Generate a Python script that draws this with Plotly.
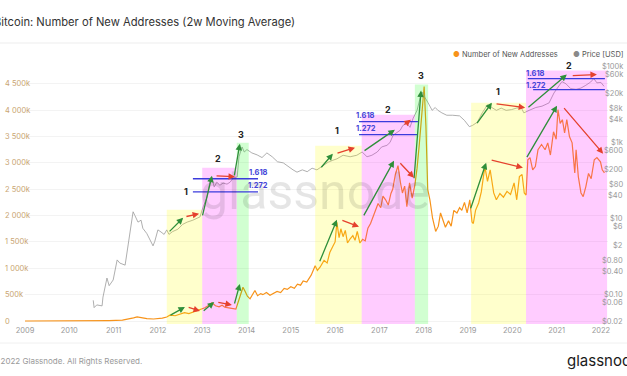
import math
import plotly.graph_objects as go

# ---------------- data ----------------
addr_years = [2009.00, 2009.50, 2010.00, 2010.50, 2010.90, 2011.20, 2011.35, 2011.45, 2011.53, 2011.62,
              2011.75, 2011.90, 2012.00, 2012.10, 2012.20, 2012.27, 2012.39, 2012.50, 2012.60, 2012.70,
              2012.82, 2012.95, 2013.06, 2013.15, 2013.22, 2013.30, 2013.38, 2013.45, 2013.51, 2013.60,
              2013.70, 2013.76, 2013.82, 2013.88, 2013.92, 2013.97, 2014.02, 2014.08, 2014.14, 2014.19,
              2014.25, 2014.32, 2014.37, 2014.45, 2014.53, 2014.62, 2014.69, 2014.77, 2014.85, 2014.92,
              2015.00, 2015.08, 2015.15, 2015.22, 2015.28, 2015.36, 2015.46, 2015.55, 2015.60, 2015.66,
              2015.75, 2015.82, 2015.88, 2015.95, 2016.00, 2016.04, 2016.09, 2016.13, 2016.18, 2016.23,
              2016.28, 2016.34, 2016.40, 2016.45, 2016.50, 2016.56, 2016.62, 2016.68, 2016.74, 2016.80,
              2016.86, 2016.92, 2016.97, 2017.03, 2017.08, 2017.14, 2017.20, 2017.26, 2017.30, 2017.36,
              2017.42, 2017.48, 2017.52, 2017.57, 2017.62, 2017.68, 2017.74, 2017.80, 2017.85, 2017.90,
              2017.96, 2018.01, 2018.05, 2018.09, 2018.14, 2018.20, 2018.27, 2018.33, 2018.38, 2018.44,
              2018.49, 2018.56, 2018.62, 2018.68, 2018.75, 2018.81, 2018.86, 2018.92, 2018.98, 2019.04,
              2019.09, 2019.12, 2019.17, 2019.24, 2019.30, 2019.38, 2019.44, 2019.50, 2019.58, 2019.64,
              2019.72, 2019.80, 2019.88, 2019.96, 2020.04, 2020.10, 2020.16, 2020.22, 2020.27, 2020.31,
              2020.35, 2020.40, 2020.46, 2020.52, 2020.58, 2020.66, 2020.74, 2020.80, 2020.86, 2020.93,
              2020.99, 2021.03, 2021.08, 2021.13, 2021.18, 2021.23, 2021.29, 2021.35, 2021.41, 2021.44,
              2021.49, 2021.55, 2021.60, 2021.66, 2021.72, 2021.78, 2021.85, 2021.91, 2021.99, 2022.03,
              2022.08]
new_addresses_k = [0, 0, 1, 3, 8, 15, 35, 60, 78, 62,
                   45, 38, 42, 55, 75, 110, 100, 130, 160, 140,
                   175, 205, 250, 300, 345, 290, 270, 300, 260, 250,
                   240, 225, 380, 560, 640, 560, 470, 420, 520, 580,
                   480, 520, 500, 540, 490, 530, 560, 540, 620, 600,
                   650, 620, 700, 680, 760, 740, 870, 1050, 960, 1020,
                   1150, 1100, 1300, 1420, 1500, 1870, 1580, 1750, 1600, 1720,
                   1480, 1560, 1620, 1530, 1700, 1480, 1550, 1520, 1760, 1850,
                   1990, 2100, 2230, 2150, 2370, 2300, 2200, 2420, 2500, 2780,
                   2950, 2600, 2430, 2560, 2170, 2620, 2330, 2580, 2900, 3350,
                   3900, 4450, 3700, 2500, 2300, 1950, 1700, 1800, 2050, 1880,
                   1780, 1900, 1800, 2100, 2050, 2150, 2100, 2250, 2050, 2300,
                   1880, 1850, 2100, 2240, 2450, 2930, 2650, 2870, 2430, 2300,
                   2420, 2350, 2460, 2400, 2620, 2300, 2740, 2780, 2430, 2390,
                   3060, 3100, 2870, 2930, 3250, 3350, 3250, 3380, 3150, 3590,
                   3450, 4010, 3750, 3820, 3570, 3820, 3500, 3380, 2810, 3250,
                   2740, 2430, 2360, 2550, 2800, 2700, 3060, 3100, 3020, 2870,
                   2810]

price_years = [2010.54, 2010.56, 2010.62, 2010.74, 2010.76, 2010.85, 2010.90, 2010.99, 2011.08, 2011.14,
               2011.26, 2011.33, 2011.39, 2011.44, 2011.48, 2011.55, 2011.62, 2011.66, 2011.75, 2011.82,
               2011.89, 2011.93, 2012.00, 2012.07, 2012.14, 2012.20, 2012.25, 2012.33, 2012.45, 2012.56,
               2012.66, 2012.79, 2012.95, 2013.02, 2013.11, 2013.18, 2013.22, 2013.27, 2013.33, 2013.40,
               2013.47, 2013.56, 2013.63, 2013.70, 2013.79, 2013.83, 2013.90, 2013.95, 2014.01, 2014.12,
               2014.24, 2014.35, 2014.46, 2014.58, 2014.70, 2014.83, 2014.94, 2015.05, 2015.14, 2015.26,
               2015.37, 2015.48, 2015.59, 2015.66, 2015.72, 2015.84, 2015.95, 2016.04, 2016.18, 2016.34,
               2016.49, 2016.61, 2016.72, 2016.83, 2016.95, 2017.05, 2017.17, 2017.24, 2017.31, 2017.40,
               2017.47, 2017.53, 2017.62, 2017.69, 2017.76, 2017.85, 2017.92, 2017.98, 2018.03, 2018.10,
               2018.19, 2018.26, 2018.32, 2018.41, 2018.52, 2018.65, 2018.81, 2018.92, 2019.03, 2019.10,
               2019.21, 2019.32, 2019.44, 2019.53, 2019.64, 2019.75, 2019.86, 2019.98, 2020.09, 2020.20,
               2020.26, 2020.38, 2020.53, 2020.67, 2020.83, 2020.94, 2021.05, 2021.12, 2021.21, 2021.32,
               2021.44, 2021.55, 2021.66, 2021.77, 2021.84, 2021.91, 2022.00, 2022.07]
price_usd = [0.07, 0.045, 0.053, 0.05, 0.085, 0.27, 0.17, 0.24, 0.81, 0.67,
             0.59, 2.3, 6.0, 15, 12, 8, 9, 5.5, 4.0, 2.7,
             1.9, 2.5, 5.0, 4.4, 3.8, 5.0, 3.8, 4.5, 5.2, 7.0,
             8.0, 9.0, 11, 20, 36, 100, 120, 67, 90, 75,
             85, 80, 90, 116, 124, 420, 760, 560, 650, 530,
             470, 400, 530, 420, 310, 290, 230, 190, 165, 190,
             170, 210, 190, 215, 230, 300, 340, 370, 460, 420,
             460, 560, 420, 460, 560, 760, 840, 1000, 1550, 1900,
             2100, 2800, 3200, 2500, 4300, 7000, 15000, 21000, 15000, 11000,
             7000, 8300, 7000, 6000, 5200, 5200, 5000, 3800, 2600, 2800,
             3400, 6000, 9800, 8400, 7000, 8000, 7000, 7300, 8000, 8300,
             6000, 7000, 8300, 9000, 11000, 20000, 32000, 40000, 35000, 26000,
             25000, 27000, 32000, 39000, 48000, 37000, 38000, 30000]

x_tick_years = list(range(2009, 2023))
left_tick_vals = [0, 500, 1000, 1500, 2000, 2500, 3000, 3500, 4000, 4500]
left_tick_text = ["0", "500k", "1 000k", "1 500k", "2 000k", "2 500k", "3 000k", "3 500k", "4 000k", "4 500k"]
right_tick_vals = [100000, 60000, 20000, 8000, 4000, 1000, 600, 200, 80, 40, 10, 6, 2, 0.8, 0.4, 0.1, 0.06, 0.02]
right_tick_text = ["$100k", "$60k", "$20k", "$8k", "$4k", "$1k", "$600", "$200", "$80", "$40",
                   "$10", "$6", "$2", "$0.80", "$0.40", "$0.10", "$0.06", "$0.02"]

# cycle phase bands: (kind, start, end, top in k addresses)
band_kind = ["yellow", "pink", "green", "yellow", "pink", "green", "yellow", "pink"]
band_start = [2012.20, 2013.00, 2013.78, 2015.55, 2016.60, 2017.80, 2019.07, 2020.31]
band_end = [2013.00, 2013.78, 2014.05, 2016.60, 2017.80, 2018.10, 2020.31, 2022.14]
band_top_k = [2110, 2909, 3384, 3327, 3916, 4486, 4144, 4753]

# trend arrows: (color, tail_x, tail_y, head_x, head_y) in years / k addresses
arrow_color = ["g", "r", "g", "r", "g", "g", "r", "g", "r", "g",
               "g", "r", "g", "r", "g", "g", "r", "g", "r",
               "g", "r", "g", "r", "g", "r", "g", "r"]
arrow_tail_x = [2012.23, 2012.61, 2013.00, 2013.29, 2013.72, 2012.25, 2012.66, 2013.00, 2013.33, 2013.72,
                2015.66, 2016.02, 2016.63, 2017.53, 2017.78, 2015.64, 2016.13, 2016.63, 2017.44,
                2019.18, 2019.61, 2020.33, 2021.33, 2019.05, 2019.50, 2020.31, 2021.14]
arrow_tail_y = [1673, 1977, 1977, 2756, 2737, 95, 266, 171, 361, 304,
                2890, 3175, 3213, 3707, 2680, 1103, 1920, 1977, 3023,
                3726, 4125, 4030, 4657, 2110, 3061, 3080, 4068]
arrow_head_x = [2012.57, 2012.93, 2013.22, 2013.74, 2013.85, 2012.61, 2012.95, 2013.27, 2013.67, 2013.85,
                2015.95, 2016.45, 2017.35, 2017.71, 2017.94, 2016.04, 2016.54, 2017.33, 2017.78,
                2019.54, 2020.29, 2021.23, 2021.91, 2019.41, 2020.24, 2021.01, 2022.05]
arrow_head_y = [1958, 2034, 2756, 2737, 3365, 266, 190, 361, 304, 703,
                3175, 3289, 3631, 3821, 4372, 1920, 1787, 3042, 2718,
                4144, 4049, 4676, 4676, 3004, 2909, 4087, 3175]

# fibonacci levels
fib_label = ["1.618", "1.272", "1.618", "1.272", "1.618", "1.272"]
fib_x0 = [2012.79, 2012.79, 2016.54, 2016.54, 2020.35, 2020.47]
fib_x1 = [2014.26, 2014.26, 2017.87, 2017.87, 2022.09, 2022.09]
fib_y = [2699, 2452, 3783, 3536, 4600, 4391]
fib_label_x = [2014.27, 2014.27, 2016.69, 2016.69, 2020.53, 2020.53]
fib_label_y = [2813, 2567, 3897, 3650, 4700, 4475]

# wave counts
wave_text = ["1", "2", "3", "1", "2", "3", "1", "2"]
wave_x = [2012.63, 2013.36, 2013.88, 2016.04, 2017.19, 2017.94, 2019.68, 2021.28]
wave_y = [2452, 3080, 3536, 3612, 4011, 4657, 4353, 4848]

# ---------------- figure ----------------
W, H = 627, 376
ML, MR, MT, MB = 25, 19, 62, 52
PW, PH = W - ML - MR, H - MT - MB


def px(xp):
    return (xp - ML) / PW


def py(yp):
    return (H - MB - yp) / PH


FONT = "Inter, Roboto, Arial, sans-serif"
ORANGE = "#f7931a"

fig = go.Figure()
fig.add_trace(go.Scatter(x=addr_years, y=new_addresses_k, mode="lines",
                         line=dict(color=ORANGE, width=1.2), name="Number of New Addresses",
                         yaxis="y"))
fig.add_trace(go.Scatter(x=price_years, y=price_usd, mode="lines",
                         line=dict(color="#9a9a9a", width=0.8), name="Price [USD]",
                         yaxis="y2"))

band_fill = {"yellow": "rgba(255,255,0,0.20)", "pink": "rgba(255,0,255,0.20)",
             "green": "rgba(0,255,0,0.18)"}
shapes = []
ymin_k = -57
for k, s, e, t in zip(band_kind, band_start, band_end, band_top_k):
    shapes.append(dict(type="rect", xref="x", yref="y", x0=s, x1=e, y0=ymin_k, y1=t,
                       fillcolor=band_fill[k], line=dict(width=0), layer="above"))
for x0, x1, yv in zip(fib_x0, fib_x1, fib_y):
    shapes.append(dict(type="line", xref="x", yref="y", x0=x0, x1=x1, y0=yv, y1=yv,
                       line=dict(color="#3b3bdc", width=1.3), layer="above"))
# separators
shapes.append(dict(type="line", xref="paper", yref="paper", x0=px(0), x1=px(W), y0=py(43), y1=py(43),
                   line=dict(color="#ededed", width=1)))
shapes.append(dict(type="line", xref="paper", yref="paper", x0=px(0), x1=px(W), y0=py(343), y1=py(343),
                   line=dict(color="#f0f0f0", width=1)))

ann = []
# watermark
ann.append(dict(text="glassnode", xref="paper", yref="paper", x=0.497, y=0.505, showarrow=False,
                xanchor="center", yanchor="middle",
                font=dict(family="Roboto, sans-serif", size=50, color="rgba(0,0,0,0.10)")))
col = {"g": "#2f8f3a", "r": "#e5412d"}
for c, tx, ty, hx, hy in zip(arrow_color, arrow_tail_x, arrow_tail_y, arrow_head_x, arrow_head_y):
    ann.append(dict(x=hx, y=hy, ax=tx, ay=ty, xref="x", yref="y", axref="x", ayref="y",
                    text="", showarrow=True, arrowhead=2, arrowsize=1.0, arrowwidth=1.3,
                    arrowcolor=col[c], standoff=0, startstandoff=0))
for t, x, y in zip(fib_label, fib_label_x, fib_label_y):
    ann.append(dict(text="<b>%s</b>" % t, x=x, y=y, xref="x", yref="y", showarrow=False,
                    xanchor="center", yanchor="middle",
                    font=dict(family=FONT, size=7.5, color="#4545d8")))
for t, x, y in zip(wave_text, wave_x, wave_y):
    ann.append(dict(text="<b>%s</b>" % t, x=x, y=y, xref="x", yref="y", showarrow=False,
                    xanchor="center", yanchor="middle",
                    font=dict(family=FONT, size=9, color="#222")))
# axis labels
for v, t in zip(left_tick_vals, left_tick_text):
    ann.append(dict(text=t, x=px(3), y=v, xref="paper", yref="y", xanchor="left", yanchor="middle",
                    showarrow=False, font=dict(family=FONT, size=7.5, color="#c9a572")))
for v, t in zip(right_tick_vals, right_tick_text):
    ann.append(dict(text=t, x=px(625), y=math.log10(v), xref="paper", yref="y2", xanchor="right",
                    yanchor="middle", showarrow=False,
                    font=dict(family=FONT, size=7.5, color="#9a9a9a")))
# title, legend, footer
ann.append(dict(text="Bitcoin: Number of New Addresses (2w Moving Average)", x=px(-8), y=py(22),
                xref="paper", yref="paper", xanchor="left", yanchor="middle", showarrow=False,
                font=dict(family=FONT, size=11.2, color="#333")))
ann.append(dict(text="<span style='color:%s'>●</span> Number of New Addresses" % ORANGE,
                x=px(560), y=py(55), xref="paper", yref="paper", xanchor="right", yanchor="middle",
                showarrow=False, font=dict(family=FONT, size=7.5, color="#555")))
ann.append(dict(text="<span style='color:#8a8a8a'>●</span> Price [USD]",
                x=px(626), y=py(55), xref="paper", yref="paper", xanchor="right", yanchor="middle",
                showarrow=False, font=dict(family=FONT, size=7.5, color="#555")))
ann.append(dict(text="© 2022 Glassnode. All Rights Reserved.", x=px(-11), y=py(361),
                xref="paper", yref="paper", xanchor="left", yanchor="middle", showarrow=False,
                font=dict(family=FONT, size=8, color="#9a9a9a")))
ann.append(dict(text="glassnode", x=px(565), y=py(360), xref="paper", yref="paper", xanchor="left",
                yanchor="middle", showarrow=False, font=dict(family=FONT, size=15, color="#1a1a1a")))

fig.update_layout(
    width=W, height=H, margin=dict(l=ML, r=MR, t=MT, b=MB, autoexpand=False),
    paper_bgcolor="white", plot_bgcolor="white", showlegend=False,
    font=dict(family=FONT, size=8, color="#999"),
    xaxis=dict(range=[2009.0, 2022.16], tickvals=x_tick_years, ticktext=[str(y) for y in x_tick_years],
               showgrid=False, zeroline=False, showline=False, ticks="",
               tickfont=dict(size=7.5, color="#999")),
    yaxis=dict(range=[ymin_k, 4915], tickvals=left_tick_vals, showticklabels=False,
               showgrid=True, gridcolor="#f3f3f3", zeroline=False, showline=False),
    yaxis2=dict(type="log", range=[-1.778, 5.117], overlaying="y", side="right",
                showticklabels=False, showgrid=False, zeroline=False, showline=False),
    shapes=shapes, annotations=ann,
)

fig.write_html("out.html", config={"displayModeBar": False},
               post_script="document.body.style.margin='0';document.body.style.overflow='hidden';")
